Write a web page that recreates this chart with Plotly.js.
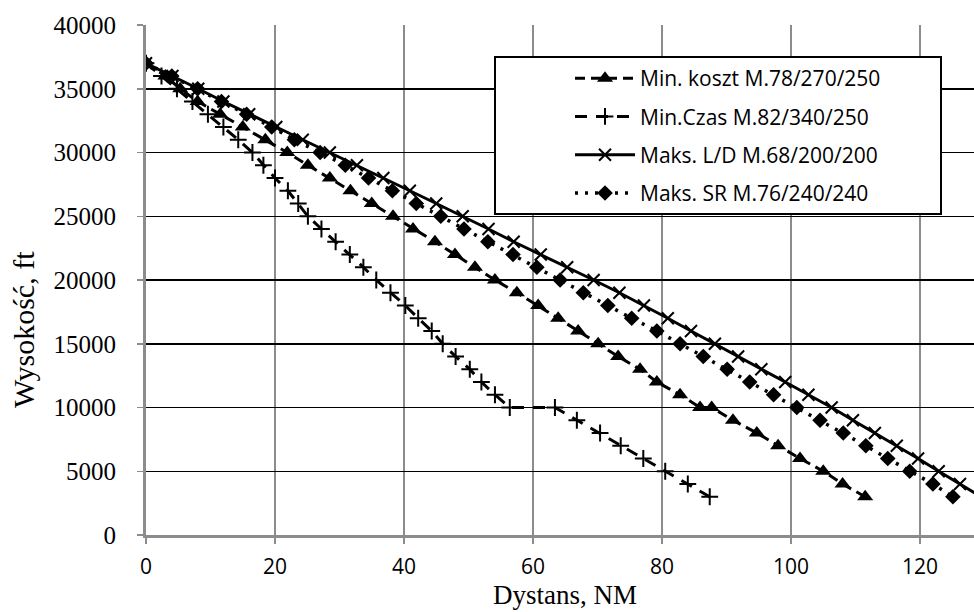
<!DOCTYPE html>
<html>
<head>
<meta charset="utf-8">
<script src="https://cdn.plot.ly/plotly-3.0.1.min.js"></script>
<style>html,body{margin:0;padding:0;background:#fff;}#chart{width:974px;height:612px;}</style>
</head>
<body>
<div id="chart"></div>
<script>
// ---- data ----
const seriesNames = [
  "Min. koszt M.78/270/250",
  "Min.Czas M.82/340/250",
  "Maks. L/D M.68/200/200",
  "Maks. SR M.76/240/240"
];

// Min. koszt
const kosztDist = [0, 3, 5.3, 8, 11.5, 15, 18.5, 21.9, 25.1, 28.5, 31.7, 35, 38.3, 41.4, 44.8, 47.9, 51, 54.1, 57.5, 60.8, 63.9, 67, 70.1, 73.2, 76.6, 79.2, 82.8, 85.9, 87.7, 91, 94.7, 98, 101.4, 105, 108, 111.5];
const kosztAlt  = [37000, 36000, 35000, 34000, 33000, 32000, 31000, 30000, 29000, 28000, 27000, 26000, 25000, 24000, 23000, 22000, 21000, 20000, 19000, 18000, 17000, 16000, 15000, 14000, 13000, 12000, 11000, 10000, 10000, 9000, 8000, 7000, 6000, 5000, 4000, 3000];

// Min. czas
const czasDist = [0, 2.4, 4.8, 7.2, 9.6, 12, 14.3, 16.5, 18.2, 20, 22, 23.6, 25.1, 27.2, 29.4, 31.6, 33.7, 35.7, 37.9, 40.2, 42.2, 44.3, 46, 48, 50.2, 52, 54.1, 56.4, 63.4, 66.8, 70.4, 73.6, 77.1, 80.5, 84, 87.4];
const czasAlt  = [37000, 36000, 35000, 34000, 33000, 32000, 31000, 30000, 29000, 28000, 27000, 26000, 25000, 24000, 23000, 22000, 21000, 20000, 19000, 18000, 17000, 16000, 15000, 14000, 13000, 12000, 11000, 10000, 10000, 9000, 8000, 7000, 6000, 5000, 4000, 3000];

// Maks. L/D
const ldDist = [0, 4.1, 8.1, 12, 16, 20.2, 24.3, 28.5, 32.7, 36.8, 40.9, 45, 49.1, 53.1, 57, 61.2, 65.3, 69.4, 73.4, 77.2, 80.9, 84.5, 88.2, 91.8, 95.4, 99.1, 102.7, 106.3, 109.6, 113, 116.4, 119.7, 122.9, 126.2, 129.5];
const ldAlt  = [37000, 36000, 35000, 34000, 33000, 32000, 31000, 30000, 29000, 28000, 27000, 26000, 25000, 24000, 23000, 22000, 21000, 20000, 19000, 18000, 17000, 16000, 15000, 14000, 13000, 12000, 11000, 10000, 9000, 8000, 7000, 6000, 5000, 4000, 3000];

// Maks. SR
const srDist = [0, 4, 8, 11.7, 15.6, 19.5, 23, 27, 30.9, 34.5, 38.2, 41.9, 45.7, 49.3, 53, 56.9, 60.6, 64.2, 67.8, 71.6, 75.3, 79.2, 82.8, 86.4, 90.1, 93.6, 97.3, 100.9, 104.5, 108.1, 111.6, 115, 118.4, 122, 125.1];
const srAlt  = [37000, 36000, 35000, 34000, 33000, 32000, 31000, 30000, 29000, 28000, 27000, 26000, 25000, 24000, 23000, 22000, 21000, 20000, 19000, 18000, 17000, 16000, 15000, 14000, 13000, 12000, 11000, 10000, 9000, 8000, 7000, 6000, 5000, 4000, 3000];

const xTicks = [0, 20, 40, 60, 80, 100, 120];
const yTicks = [0, 5000, 10000, 15000, 20000, 25000, 30000, 35000, 40000];
const xTitle = "Dystans, NM";
const yTitle = "Wysokość, ft";

// ---- chart ----
const W = 974, H = 612;
const L = 146, R = 0, T = 25, B = 77;
const pw = W - L - R, ph = H - T - B;
const px = v => (v - L) / pw;           // pixel -> paper x
const py = v => (H - B - v) / ph;       // pixel -> paper y

const traces = [
  {x: kosztDist, y: kosztAlt, name: seriesNames[0], legendgroup: "a", mode: "lines+markers",
   line: {color: "#000", width: 3, dash: "10px,6px"},
   marker: {symbol: "triangle-up", size: 14, color: "#000"}},
  {x: czasDist, y: czasAlt, name: seriesNames[1], legendgroup: "b", mode: "lines+markers",
   line: {color: "#000", width: 3, dash: "12px,9px"},
   marker: {symbol: "cross-thin", size: 12, color: "#000", line: {color: "#000", width: 2}}},
  {x: ldDist, y: ldAlt, name: seriesNames[2], legendgroup: "c", mode: "lines+markers",
   line: {color: "#000", width: 3},
   marker: {symbol: "x-thin", size: 12, color: "#000", line: {color: "#000", width: 2}}},
  {x: srDist, y: srAlt, name: seriesNames[3], legendgroup: "d", mode: "lines+markers",
   line: {color: "#000", width: 3.5, dash: "3px,7px"},
   marker: {symbol: "diamond", size: 12, color: "#000"}}
];

const layout = {
  width: W, height: H,
  margin: {l: L, r: R, t: T, b: B},
  paper_bgcolor: "#fff", plot_bgcolor: "#fff",
  showlegend: true,
  legend: {x: px(570), y: py(58), xanchor: "left", yanchor: "top",
           bgcolor: "rgba(0,0,0,0)", borderwidth: 0, itemwidth: 60,
           font: {family: "Open Sans", size: 21, color: "#000"},
           tracegroupgap: 8},
  xaxis: {range: [0, (W - L - R) / 6.45], tickvals: xTicks, ticktext: xTicks.map(String),
          showgrid: true, gridcolor: "#8c8c8c", gridwidth: 1.5,
          showline: true, linecolor: "#8c8c8c", linewidth: 3,
          ticks: "outside", ticklen: 6, tickcolor: "#8c8c8c", tickwidth: 1.5,
          ticklabelstandoff: 5,
          tickfont: {family: "Open Sans", size: 21, color: "#000"}, zeroline: false},
  yaxis: {range: [0, 40000], tickvals: yTicks, ticktext: yTicks.map(String),
          showgrid: true, gridcolor: "#000", gridwidth: 1.5,
          showline: true, linecolor: "#8c8c8c", linewidth: 3,
          ticks: "outside", ticklen: 6, tickcolor: "#8c8c8c", tickwidth: 1.5,
          ticklabelstandoff: 16,
          tickfont: {family: "Liberation Serif", size: 25, color: "#000"}, zeroline: false},
  shapes: [
    {type: "rect", xref: "paper", yref: "paper", x0: px(495), x1: px(941), y0: py(214), y1: py(57),
     fillcolor: "#fff", line: {color: "#000", width: 2}, layer: "above"}
  ],
  annotations: [
    {text: xTitle, xref: "paper", yref: "paper", x: px(565), y: py(612), xanchor: "center", yanchor: "bottom",
     showarrow: false, font: {family: "Liberation Serif", size: 27, color: "#000"}},
    {text: yTitle, xref: "paper", yref: "paper", x: px(23), y: py(330), xanchor: "center", yanchor: "middle",
     textangle: -90, showarrow: false, font: {family: "Liberation Serif", size: 30, color: "#000"}}
  ]
};

Plotly.newPlot("chart", traces, layout, {displayModeBar: false, staticPlot: true});
</script>
</body>
</html>
